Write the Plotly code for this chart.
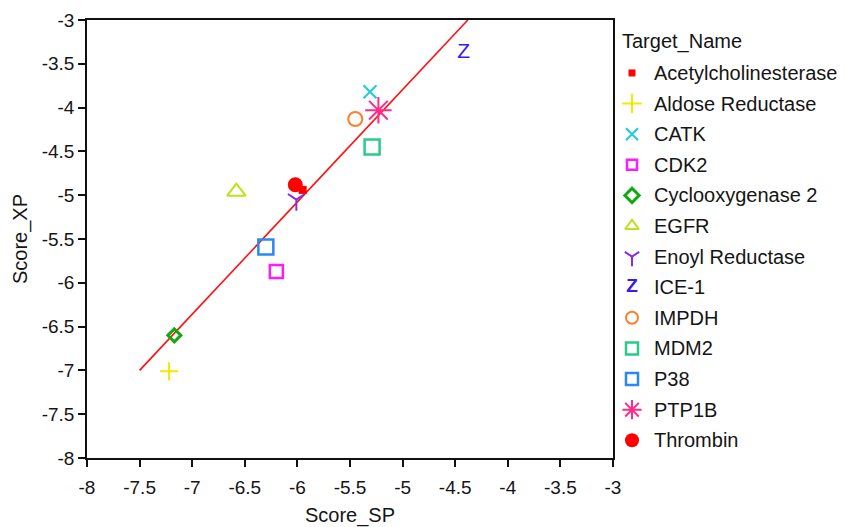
import plotly.graph_objects as go

# ---- data -------------------------------------------------------------
targets = [
    "Acetylcholinesterase", "Aldose Reductase", "CATK", "CDK2",
    "Cyclooxygenase 2", "EGFR", "Enoyl Reductase", "ICE-1", "IMPDH",
    "MDM2", "P38", "PTP1B", "Thrombin",
]
score_sp = [-5.95, -7.22, -5.31, -6.20, -7.17, -6.58, -6.01, -4.42, -5.45, -5.29, -6.30, -5.23, -6.02]
score_xp = [-4.94, -7.01, -3.82, -5.87, -6.60, -4.96, -5.05, -3.37, -4.13, -4.45, -5.59, -4.03, -4.88]

# fitted trend line (end points)
fit_sp = [-7.5, -4.38]
fit_xp = [-7.0, -3.0]

tick_vals = [-8, -7.5, -7, -6.5, -6, -5.5, -5, -4.5, -4, -3.5, -3]
tick_text = ["-8", "-7.5", "-7", "-6.5", "-6", "-5.5", "-5", "-4.5", "-4", "-3.5", "-3"]

# ---- styling ----------------------------------------------------------
FONT = "Liberation Sans, Arial, sans-serif"
TXT = "#151515"
FS = 20

styles = {
    "Acetylcholinesterase": dict(symbol="square", color="#FF0000", size=8, lsize=7, lw=0),
    "Aldose Reductase": dict(symbol="cross-thin-open", color="#F0EA00", size=13, lsize=14, lw=2),
    "CATK": dict(symbol="x-thin-open", color="#1CCFD6", size=13, lsize=12, lw=2),
    "CDK2": dict(symbol="square-open", color="#FF1AFF", size=13, lsize=10, lw=2.5),
    "Cyclooxygenase 2": dict(symbol="diamond-open", color="#12AA12", size=10, lsize=11, lw=3),
    "EGFR": dict(symbol="triangle-up-open", color="#BCE21A", size=16, lsize=12, lw=2),
    "Enoyl Reductase": dict(symbol="y-down-open", color="#8A2BE2", size=14, lsize=12, lw=2),
    "ICE-1": dict(symbol="Z", color="#3A1AF0", size=21, lsize=19, lw=0),
    "IMPDH": dict(symbol="circle-open", color="#FF7F2A", size=14, lsize=12, lw=2),
    "MDM2": dict(symbol="square-open", color="#2ACB8A", size=15, lsize=12, lw=2.5),
    "P38": dict(symbol="square-open", color="#2A88F0", size=15, lsize=12, lw=2.5),
    "PTP1B": dict(symbol="asterisk-open", color="#FF2A8A", size=22, lsize=16, lw=2),
    "Thrombin": dict(symbol="circle", color="#FF0000", size=15, lsize=14, lw=0),
}

W, H = 846, 527
ML, MR, MT, MB = 87, 10, 20, 69
plot_w = W - ML - MR
main_right = 526 / plot_w           # right edge of the scatter panel
key_left = (620 - ML) / plot_w      # left edge of the key panel
key_w = plot_w * (1 - key_left)

fig = go.Figure()

# trend line
fig.add_trace(go.Scatter(
    x=fit_sp, y=fit_xp, mode="lines",
    line=dict(color="#FF1010", width=1.6),
    showlegend=False, hoverinfo="skip",
))


def marker_trace(st, x, y, size, xa, ya, bold=False):
    if st["symbol"] == "Z":
        return go.Scatter(
            x=x, y=y, mode="text", text=["Z"] * len(x),
            textposition="middle center",
            textfont=dict(family=FONT, size=size, color=st["color"],
                          weight="bold" if bold else "normal"),
            xaxis=xa, yaxis=ya, showlegend=False, hoverinfo="skip",
        )
    return go.Scatter(
        x=x, y=y, mode="markers",
        marker=dict(symbol=st["symbol"], size=size, color=st["color"],
                    line=dict(color=st["color"], width=st["lw"])),
        xaxis=xa, yaxis=ya, showlegend=False, hoverinfo="skip",
    )


# data points, one trace per target
for name, sx, sy in zip(targets, score_sp, score_xp):
    st = styles[name]
    fig.add_trace(marker_trace(st, [sx], [sy], st["size"], "x", "y"))

# key (Target_Name) drawn on its own hidden axes, one row per target
key_marker_x = 12
key_text_x = 32
for row, name in enumerate(targets):
    st = styles[name]
    fig.add_trace(marker_trace(st, [key_marker_x], [row], st["lsize"], "x2", "y2", bold=True))
    fig.add_annotation(
        x=key_text_x, y=row, xref="x2", yref="y2", text=name,
        showarrow=False, xanchor="left", yanchor="middle",
        font=dict(family=FONT, size=FS, color=TXT),
    )
fig.add_annotation(
    x=0, y=-1.02, xref="x2", yref="y2", text="Target_Name",
    showarrow=False, xanchor="left", yanchor="middle",
    font=dict(family=FONT, size=FS, color=TXT),
)

axis_common = dict(
    showline=True, linecolor="#111", linewidth=1.6, mirror=True,
    ticks="outside", ticklen=7, tickwidth=1.5, tickcolor="#111",
    showgrid=False, zeroline=False, automargin=False,
    tickfont=dict(family=FONT, size=19, color=TXT),
    tickvals=tick_vals, ticktext=tick_text,
)

fig.update_layout(
    width=W, height=H,
    margin=dict(l=ML, r=MR, t=MT, b=MB, autoexpand=False),
    paper_bgcolor="white", plot_bgcolor="white",
    showlegend=False,
    xaxis=dict(
        axis_common, domain=[0, main_right], range=[-8, -3], anchor="y",
        ticklabelstandoff=4,
        title=dict(text="Score_SP", standoff=12,
                   font=dict(family=FONT, size=FS, color=TXT)),
    ),
    yaxis=dict(
        axis_common, domain=[0, 1], range=[-8, -3], anchor="x",
        title=dict(text="Score_XP", standoff=9,
                   font=dict(family=FONT, size=FS, color=TXT)),
    ),
    xaxis2=dict(domain=[key_left, 1], range=[0, key_w], visible=False,
                anchor="y2", fixedrange=True),
    yaxis2=dict(domain=[0, 1], range=[12.58, -1.73], visible=False,
                anchor="x2", fixedrange=True),
)

fig.write_html("out.html")
